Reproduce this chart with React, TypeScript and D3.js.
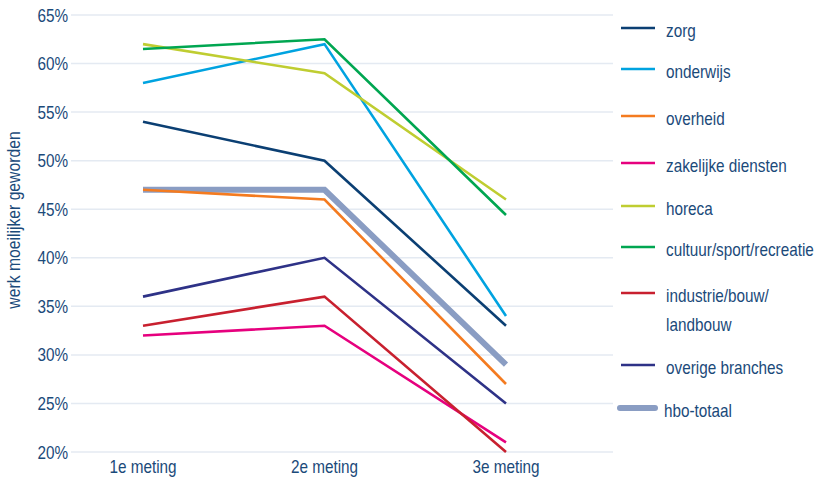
import React from "react";
import * as d3 from "d3";

const categories = ["1e meting", "2e meting", "3e meting"];
const yTicks = [20, 25, 30, 35, 40, 45, 50, 55, 60, 65];

const seriesNames = ["zorg", "onderwijs", "overheid", "zakelijke diensten", "horeca", "cultuur/sport/recreatie", "industrie/bouw/landbouw", "overige branches", "hbo-totaal"];
const zorg = [54, 50, 33];
const onderwijs = [58, 62, 34];
const overheid = [47, 46, 27];
const zakelijk = [32, 33, 21];
const horeca = [62, 59, 46];
const cultuur = [61.5, 62.5, 44.4];
const industrie = [33, 36, 20];
const overige = [36, 40, 25];
const hbo = [47, 47, 29];
const seriesValues = [zorg, onderwijs, overheid, zakelijk, horeca, cultuur, industrie, overige, hbo];
const colors = ["#0b3f73", "#00a3e0", "#f47b20", "#e6007e", "#bfcd31", "#00a651", "#c8202f", "#2e3287", "#8a9dc3"];
const legendLines = [["zorg"], ["onderwijs"], ["overheid"], ["zakelijke diensten"], ["horeca"], ["cultuur/sport/recreatie"], ["industrie/bouw/", "landbouw"], ["overige branches"], ["hbo-totaal"]];
const legendY = [28, 69, 116, 163, 206, 247, 293, 365, 408];

const font = "'Liberation Sans', Arial, sans-serif";
const textColor = "#1b4a7a";
const SX = 0.85;

function T({ x, y, anchor, size, rotate, children }: any) {
  return (
    <g transform={`translate(${x},${y})${rotate ? ` rotate(${rotate})` : ""} scale(${SX},1)`}>
      <text x={0} y={0} textAnchor={anchor || "start"} fontFamily={font} fontSize={size} fill={textColor}>{children}</text>
    </g>
  );
}

export default function App() {
  const W = 815, H = 480;
  const x = d3.scalePoint<string>().domain(categories).range([143, 506]);
  const y = d3.scaleLinear().domain([20, 65]).range([452, 15]);
  const line = d3.line<number>().x((_, i) => x(categories[i]) as number).y((d) => y(d));
  const order = [8, 0, 1, 2, 3, 4, 5, 6, 7];
  return (
    <svg width={W} height={H} style={{ position: "absolute", left: 0, top: 0, background: "#fff" }}>
      {yTicks.map((t) => (
        <g key={t}>
          <line x1={71} x2={613} y1={y(t)} y2={y(t)} stroke="#e4eaf2" strokeWidth={1.5} />
          <T x={68} y={y(t) + 6.5} anchor="end" size={18}>{t}%</T>
        </g>
      ))}
      {categories.map((c) => (
        <T key={c} x={x(c)} y={473} anchor="middle" size={18}>{c}</T>
      ))}
      <T x={20} y={220} anchor="middle" size={18.5} rotate={-90}>werk moeilijker geworden</T>
      {order.map((i) => (
        <path key={i} d={line(seriesValues[i]) || ""} fill="none" stroke={colors[i]} strokeWidth={i === 8 ? 6 : 2.6} strokeLinejoin="miter" />
      ))}
      {seriesNames.map((n, i) => (
        <g key={n}>
          <line x1={i === 8 ? 620 : 621} x2={655} y1={legendY[i]} y2={legendY[i]} stroke={colors[i]} strokeWidth={i === 8 ? 6 : 2.6} strokeLinecap={i === 8 ? "round" : "butt"} />
          {legendLines[i].map((l, j) => (
            <T key={j} x={i === 8 ? 664 : 666} y={legendY[i] + 9 + j * 29} size={18}>{l}</T>
          ))}
        </g>
      ))}
    </svg>
  );
}
